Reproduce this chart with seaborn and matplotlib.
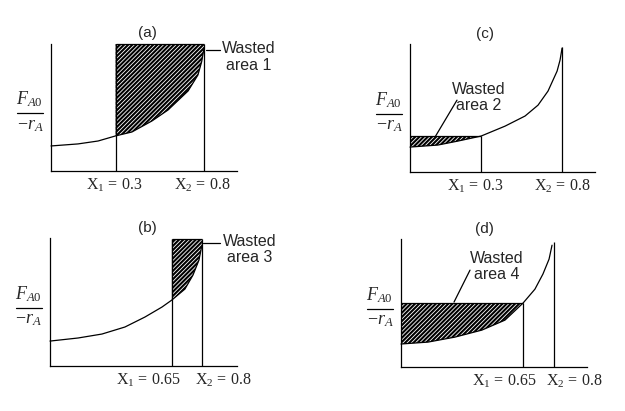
import matplotlib
matplotlib.use("Agg")
import matplotlib.pyplot as plt
import numpy as np
import pandas as pd
import seaborn as sns

# ---------------- data (schematic; axis fractions) ----------------
panel_names = ["(a)", "(b)", "(c)", "(d)"]

curve_x_a = [0.0, 0.145, 0.253, 0.347, 0.435, 0.543, 0.629, 0.737, 0.790, 0.810, 0.823]
curve_y_a = [0.197, 0.213, 0.236, 0.276, 0.307, 0.394, 0.480, 0.630, 0.756, 0.860, 0.969]

curve_x_b = [0.0, 0.150, 0.278, 0.401, 0.508, 0.599, 0.652, 0.722, 0.765, 0.797, 0.813]
curve_y_b = [0.195, 0.219, 0.250, 0.305, 0.383, 0.461, 0.516, 0.602, 0.711, 0.828, 0.945]

curve_x_c = [0.0, 0.151, 0.259, 0.384, 0.514, 0.622, 0.692, 0.746, 0.795, 0.811, 0.822]
curve_y_c = [0.195, 0.211, 0.242, 0.281, 0.359, 0.438, 0.523, 0.633, 0.789, 0.875, 0.969]

curve_x_d = [0.0, 0.145, 0.290, 0.435, 0.559, 0.656, 0.720, 0.763, 0.796, 0.812]
curve_y_d = [0.180, 0.195, 0.234, 0.289, 0.367, 0.500, 0.609, 0.727, 0.844, 0.953]

x1_pos = [0.347, 0.652, 0.384, 0.656]
x2_pos = [0.823, 0.813, 0.822, 0.823]
x2_top = [1.0, 0.99, 0.977, 0.98]

x1_labels = [r"$\mathrm{X}_1\,=\,0.3$", r"$\mathrm{X}_1\,=\,0.65$", r"$\mathrm{X}_1\,=\,0.3$", r"$\mathrm{X}_1\,=\,0.65$"]
x2_labels = [r"$\mathrm{X}_2\,=\,0.8$", r"$\mathrm{X}_2\,=\,0.8$", r"$\mathrm{X}_2\,=\,0.8$", r"$\mathrm{X}_2\,=\,0.8$"]
wasted_labels = ["Wasted\narea 1", "Wasted\narea 3", "Wasted\narea 2", "Wasted\narea 4"]
# which side of X1 is wasted: "right" = rectangle X1..X2 above curve, "left" = 0..X1 below level curve(X1)
wasted_side = ["right", "right", "left", "left"]
rect_top = [1.0, 0.99, None, None]
ylabel_num = r"$F_{A0}$"
ylabel_den = r"$-r_A$"

# ---------------- layout / styles ----------------
sns.set_style("white")
plt.rcParams["font.family"] = ["Liberation Serif", "DejaVu Serif"]
plt.rcParams["mathtext.fontset"] = "custom"
plt.rcParams["mathtext.rm"] = "Liberation Serif"
plt.rcParams["mathtext.it"] = "Liberation Serif:italic"
plt.rcParams["mathtext.bf"] = "Liberation Serif:bold"
plt.rcParams["hatch.linewidth"] = 0.6

fig = plt.figure(figsize=(6.25, 4.11), dpi=100)
positions = [
    [0.0816, 0.584, 0.2976, 0.309],
    [0.080, 0.1095, 0.299, 0.311],
    [0.656, 0.5815, 0.296, 0.311],
    [0.6416, 0.107, 0.2976, 0.311],
]
title_xy = [(0.52, 1.085), (0.52, 1.08), (0.405, 1.08), (0.45, 1.08)]
wasted_xy = [(1.065, 0.898), (1.07, 0.91), (0.370, 0.582), (0.516, 0.789)]
label1_x = [0.339, 0.527, 0.354, 0.554]
label2_x = [0.815, 0.928, 0.822, 0.933]
leaders = [
    ((0.833, 0.909), (0.953, 0.953)),
    ((0.818, 0.909), (0.961, 0.961)),
    ((0.254, 0.135), (0.562, 0.273)),
    ((0.371, 0.285), (0.758, 0.508)),
]
curves = [(curve_x_a, curve_y_a), (curve_x_b, curve_y_b), (curve_x_c, curve_y_c), (curve_x_d, curve_y_d)]
LW = 0.9

for i in range(4):
    ax = fig.add_axes(positions[i])
    cx, cy = curves[i]
    df = pd.DataFrame({"x": cx, "y": cy})
    x1, x2 = x1_pos[i], x2_pos[i]
    cx_arr = np.array(cx)
    cy_arr = np.array(cy)
    y_at_x1 = float(np.interp(x1, cx_arr, cy_arr))

    # hatched wasted area
    if wasted_side[i] == "right":
        m = cx_arr >= x1 - 1e-9
        top = rect_top[i]
        ax.fill_between(cx_arr[m], cy_arr[m], top, facecolor="black", edgecolor="white",
                        hatch="////////", linewidth=0, zorder=1)
        ax.hlines(top, x1, x2, color="black", lw=LW, zorder=3, clip_on=False)
        ax.vlines(x1, 0, top, color="black", lw=LW, zorder=3, clip_on=False)
    else:
        m = cx_arr <= x1 + 1e-9
        ax.fill_between(cx_arr[m], cy_arr[m], y_at_x1, facecolor="black", edgecolor="white",
                        hatch="////////", linewidth=0, zorder=1)
        ax.hlines(y_at_x1, 0, x1, color="black", lw=LW, zorder=3)
        ax.vlines(x1, 0, y_at_x1, color="black", lw=LW, zorder=3)
    ax.vlines(x2, 0, x2_top[i], color="black", lw=LW, zorder=3, clip_on=False)

    sns.lineplot(data=df, x="x", y="y", ax=ax, color="black", lw=LW, sort=False,
                 estimator=None, zorder=4, clip_on=False)

    ax.set_xlim(0, 1)
    ax.set_ylim(0, 1)
    ax.set_xticks([])
    ax.set_yticks([])
    ax.set_xlabel("")
    ax.set_ylabel("")
    for s in ["top", "right"]:
        ax.spines[s].set_visible(False)
    for s in ["left", "bottom"]:
        ax.spines[s].set_color("black")
        ax.spines[s].set_linewidth(LW)
    ax.set_facecolor("none")

    # x position labels
    ax.text(label1_x[i], -0.045, x1_labels[i], transform=ax.transAxes, ha="center", va="top", fontsize=11.5)
    ax.text(label2_x[i], -0.045, x2_labels[i], transform=ax.transAxes, ha="center", va="top", fontsize=11.5)

    # panel title
    ax.text(*title_xy[i], panel_names[i], transform=ax.transAxes, ha="center", va="center",
            fontsize=11, family=["Liberation Sans", "DejaVu Sans"])

    # y label as a stacked fraction
    ax.text(-0.116, 0.486, ylabel_num, transform=ax.transAxes, ha="center", va="bottom", fontsize=13)
    ax.text(-0.113, 0.428, ylabel_den, transform=ax.transAxes, ha="center", va="top", fontsize=13)
    ax.plot([-0.184, -0.045], [0.455, 0.455], transform=ax.transAxes, color="black", lw=LW, clip_on=False)

    # wasted-area annotation
    ax.text(*wasted_xy[i], wasted_labels[i], transform=ax.transAxes, ha="center", va="center",
            multialignment="center", fontsize=11.5, linespacing=1.1,
            family=["Liberation Sans", "DejaVu Sans"])
    (lx0, lx1), (ly0, ly1) = leaders[i]
    ax.plot([lx0, lx1], [ly0, ly1], transform=ax.transAxes, color="black", lw=LW, clip_on=False)

fig.savefig("out.png", dpi=100)
